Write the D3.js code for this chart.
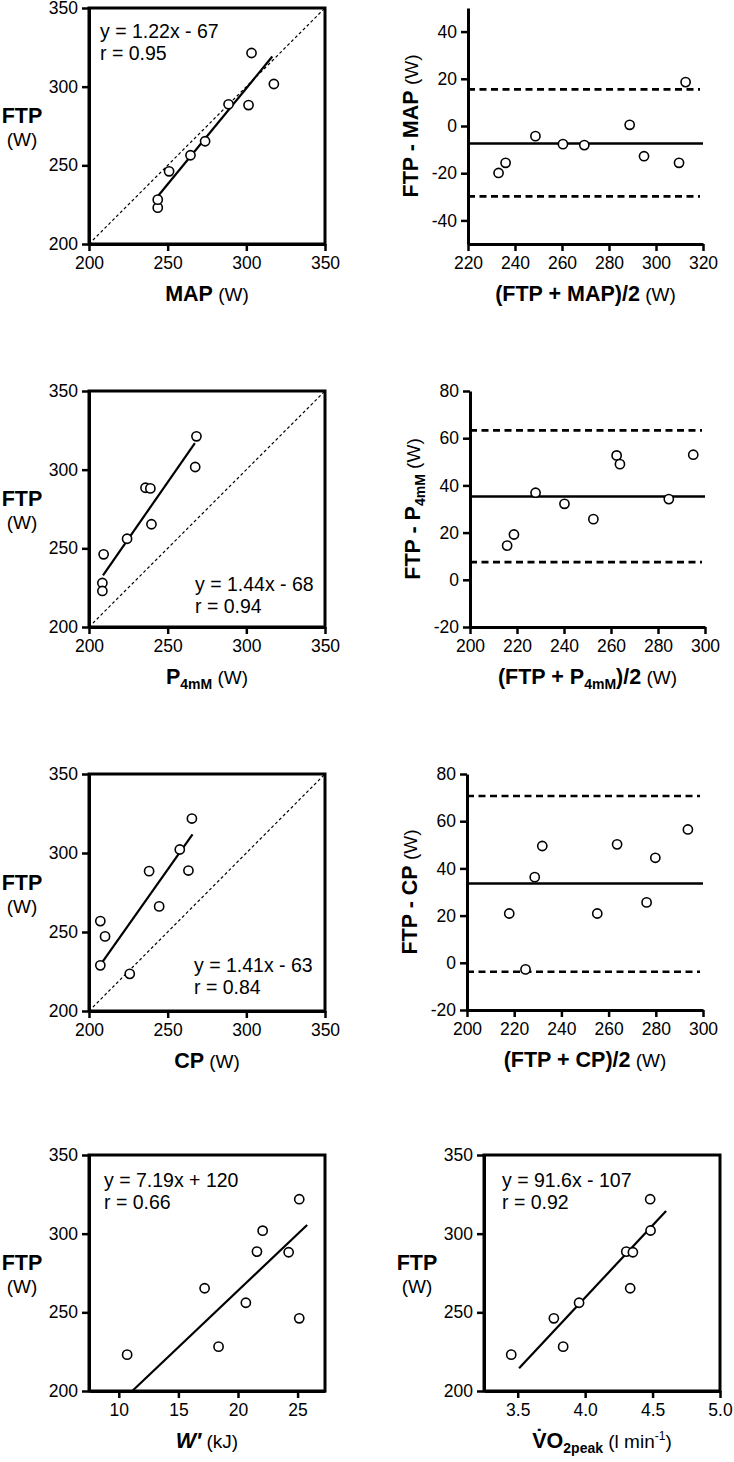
<!DOCTYPE html>
<html><head><meta charset="utf-8">
<script src="https://cdn.jsdelivr.net/npm/d3@7"></script>
<style>
body{margin:0;background:#fff}
svg{display:block}
text{font-family:"Liberation Sans",Arial,Helvetica,sans-serif;fill:#000}
</style>
</head><body>
<svg id="chart" width="734" height="1462"></svg>
<script>
// ---------------- DATA ----------------
// Panel A: FTP vs MAP
const mapX   = [243.7, 243.7, 250.9, 264.5, 273.8, 288.7, 301.4, 303.3, 317.5];
const mapFTP = [223.1, 228.2, 246.2, 256.4, 265.3, 288.8, 288.3, 321.4, 301.7];
const mapReg = {slope: 1.22, intercept: -67, from: 244, to: 316.5, eq: "y = 1.22x - 67", r: "r = 0.95"};
// Panel B: Bland-Altman FTP - MAP
const baMapMean = [233.0, 236.0, 248.7, 260.4, 269.5, 288.8, 294.9, 309.8, 312.6];
const baMapDiff = [-19.9, -15.6, -4.3, -7.7, -8.1, 0.5, -12.8, -15.6, 18.6];
const baMapBias = -7.4;
const baMapLoA  = [15.5, -29.8];
// Panel C: FTP vs P4mM
const p4X   = [209.3, 208.5, 208.5, 224.2, 235.9, 239.0, 239.7, 267.5, 268.3];
const p4FTP = [246.2, 228.0, 222.9, 256.1, 288.5, 288.1, 265.3, 301.7, 321.2];
const p4Reg = {slope: 1.44, intercept: -68, from: 208.9, to: 267.3, eq: "y = 1.44x - 68", r: "r = 0.94"};
// Panel D: Bland-Altman FTP - P4mM
const baP4Mean = [215.8, 218.7, 227.9, 240.2, 252.5, 262.4, 263.8, 284.6, 295.0];
const baP4Diff = [14.5, 19.2, 36.9, 32.2, 25.7, 52.7, 49.0, 34.2, 53.0];
const baP4Bias = 35.3;
const baP4LoA  = [63.3, 7.5];
// Panel E: FTP vs CP
const cpX   = [207.2, 210.2, 207.2, 225.9, 238.2, 244.6, 257.7, 263.2, 265.4];
const cpFTP = [256.9, 247.2, 228.9, 223.5, 288.5, 266.2, 302.2, 288.9, 321.8];
const cpReg = {slope: 1.41, intercept: -63, from: 207.9, to: 265.8, eq: "y = 1.41x - 63", r: "r = 0.84"};
// Panel F: Bland-Altman FTP - CP
const baCpMean = [217.9, 224.8, 228.7, 231.9, 255.2, 263.6, 276.1, 279.8, 293.6];
const baCpDiff = [20.9, -2.8, 36.3, 49.5, 20.9, 50.2, 25.6, 44.5, 56.5];
const baCpBias = 33.6;
const baCpLoA  = [70.7, -3.8];
// Panel G: FTP vs W'
const wX   = [10.7, 18.37, 17.2, 20.66, 25.14, 21.59, 24.25, 22.07, 25.14];
const wFTP = [223.1, 228.2, 265.3, 256.1, 246.2, 288.6, 288.2, 301.9, 321.9];
const wReg = {slope: 7.19, intercept: 120, from: 11.13, to: 25.8, eq: "y = 7.19x + 120", r: "r = 0.66"};
// Panel H: FTP vs VO2peak
const vX   = [3.452, 3.768, 3.837, 3.955, 4.305, 4.354, 4.334, 4.485, 4.482];
const vFTP = [223.1, 246.2, 228.2, 256.1, 288.6, 288.2, 265.3, 302.0, 321.9];
const vReg = {slope: 91.6, intercept: -107, from: 3.51, to: 4.60, eq: "y = 91.6x - 107", r: "r = 0.92"};

// Tick labels / domains
const powerTicks = [200, 250, 300, 350];
const powerDomain = [200, 350];
const baMapXTicks = [220, 240, 260, 280, 300, 320];
const baMapYTicks = [-40, -20, 0, 20, 40];
const baXTicks = [200, 220, 240, 260, 280, 300];
const baYTicks = [-20, 0, 20, 40, 60, 80];
const wTicks = [10, 15, 20, 25];
const wDomain = [7.5, 27.3];
const vTicks = [3.5, 4.0, 4.5, 5.0];
const vDomain = [3.25, 5.0];

// ---------------- DRAWING ----------------
const svg = d3.select("#chart");
const FONT_TICK = "17.5px";
const intFmt = d => String(d);

function richText(sel, segs) {
  let shift = 0;
  segs.forEach(s => {
    const t = sel.append("tspan").text(s.t)
      .style("font-size", (s.size || 19) + "px")
      .style("font-weight", s.bold ? "bold" : "normal")
      .style("font-style", s.italic ? "italic" : "normal");
    const target = s.shift || 0;
    if (target !== shift) { t.attr("dy", target - shift); shift = target; }
  });
}

function drawAxes(g, x, y, w, h, o) {
  const ax = g.append("g").attr("transform", `translate(0,${h})`)
    .call(d3.axisBottom(x).tickValues(o.xTicks).tickFormat(o.xFmt || intFmt)
      .tickSize(7).tickSizeOuter(0).tickPadding(6));
  const ay = g.append("g")
    .call(d3.axisLeft(y).tickValues(o.yTicks).tickFormat(intFmt)
      .tickSize(7).tickSizeOuter(0).tickPadding(4));
  [ax, ay].forEach(a => {
    a.attr("font-family", null).attr("font-size", null);
    a.selectAll("text").style("font-size", FONT_TICK);
    a.selectAll(".tick line").attr("stroke-width", 2.5);
    a.select(".domain").attr("stroke-width", 3);
  });
}

function points(g, x, y, xs, ys) {
  g.selectAll("circle.pt").data(xs.map((v, i) => [v, ys[i]])).join("circle")
    .attr("class", "pt")
    .attr("cx", d => x(d[0])).attr("cy", d => y(d[1]))
    .attr("r", 4.6).attr("fill", "#fff").attr("stroke", "#000").attr("stroke-width", 1.6);
}

function scatterPanel(o) {
  const w = o.w, h = o.h;
  const g = svg.append("g").attr("transform", `translate(${o.left},${o.top})`);
  const x = d3.scaleLinear().domain(o.xDomain).range([0, w]);
  const y = d3.scaleLinear().domain(o.yDomain).range([h, 0]);
  if (o.identity) {
    g.append("line")
      .attr("x1", x(o.yDomain[0])).attr("y1", y(o.yDomain[0]))
      .attr("x2", x(o.yDomain[1])).attr("y2", y(o.yDomain[1]))
      .attr("stroke", "#000").attr("stroke-width", 1.2).attr("stroke-dasharray", "3,2.5");
  }
  const reg = o.reg;
  g.append("line")
    .attr("x1", x(reg.from)).attr("y1", y(reg.slope * reg.from + reg.intercept))
    .attr("x2", x(reg.to)).attr("y2", y(reg.slope * reg.to + reg.intercept))
    .attr("stroke", "#000").attr("stroke-width", 2.2);
  points(g, x, y, o.xs, o.ys);
  g.append("rect").attr("x", 0).attr("y", 0).attr("width", w).attr("height", h)
    .attr("fill", "none").attr("stroke", "#000").attr("stroke-width", 3);
  drawAxes(g, x, y, w, h, o);
  // equation text
  g.append("text").attr("x", o.eqX).attr("y", o.eqY).style("font-size", "19.5px").text(reg.eq);
  g.append("text").attr("x", o.eqX).attr("y", o.eqY + 22).style("font-size", "19.5px").text(reg.r);
  // y title
  g.append("text").attr("text-anchor", "middle").attr("x", -67).attr("y", h / 2 - 3)
    .style("font-size", "21.5px").style("font-weight", "bold").text("FTP");
  g.append("text").attr("text-anchor", "middle").attr("x", -67).attr("y", h / 2 + 20)
    .style("font-size", "19px").text("(W)");
  // x title
  const xt = g.append("text").attr("text-anchor", "middle").attr("x", w / 2).attr("y", h + 57);
  richText(xt, o.xTitle);
}

function baPanel(o) {
  const w = o.w, h = o.h;
  const g = svg.append("g").attr("transform", `translate(${o.left},${o.top})`);
  const x = d3.scaleLinear().domain(o.xDomain).range([0, w]);
  const y = d3.scaleLinear().domain(o.yDomain).range([h, 0]);
  g.append("line").attr("x1", 0).attr("x2", w).attr("y1", y(o.bias)).attr("y2", y(o.bias))
    .attr("stroke", "#000").attr("stroke-width", 2.6);
  o.loa.forEach(v => {
    g.append("line").attr("x1", 0).attr("x2", w - 3).attr("y1", y(v)).attr("y2", y(v))
      .attr("stroke", "#000").attr("stroke-width", 2.6).attr("stroke-dasharray", "7,4.5");
  });
  points(g, x, y, o.xs, o.ys);
  drawAxes(g, x, y, w, h, o);
  const yt = g.append("text").attr("text-anchor", "middle")
    .attr("transform", `translate(-50,${h / 2}) rotate(-90)`);
  richText(yt, o.yTitle);
  const xt = g.append("text").attr("text-anchor", "middle").attr("x", w / 2).attr("y", h + 57);
  richText(xt, o.xTitle);
}

const B = (t, size) => ({t, bold: true, size: size || 21.5});
const R = (t, size) => ({t, size: size || 19});
const SUB = (t) => ({t, bold: true, size: 14, shift: 5});
const BACK = (seg) => Object.assign({shift: 0}, seg);

// Row 1
scatterPanel({left: 89, top: 8, w: 236, h: 236, xDomain: powerDomain, yDomain: powerDomain,
  xTicks: powerTicks, yTicks: powerTicks, xs: mapX, ys: mapFTP, reg: mapReg, identity: true,
  eqX: 11, eqY: 30, xTitle: [B("MAP"), R(" (W)")]});
baPanel({left: 468, top: 8, w: 235, h: 236, xDomain: [220, 320], yDomain: [-50, 50],
  xTicks: baMapXTicks, yTicks: baMapYTicks, xs: baMapMean, ys: baMapDiff, bias: baMapBias, loa: baMapLoA,
  yTitle: [B("FTP - MAP"), R(" (W)")], xTitle: [B("(FTP + MAP)/2"), R(" (W)")]});
// Row 2
scatterPanel({left: 89, top: 391, w: 236, h: 236, xDomain: powerDomain, yDomain: powerDomain,
  xTicks: powerTicks, yTicks: powerTicks, xs: p4X, ys: p4FTP, reg: p4Reg, identity: true,
  eqX: 106, eqY: 200, xTitle: [B("P"), SUB("4mM"), BACK(R(" (W)"))]});
baPanel({left: 470, top: 391, w: 235, h: 236, xDomain: [200, 300], yDomain: [-20, 80],
  xTicks: baXTicks, yTicks: baYTicks, xs: baP4Mean, ys: baP4Diff, bias: baP4Bias, loa: baP4LoA,
  yTitle: [B("FTP - P"), SUB("4mM"), BACK(R(" (W)"))],
  xTitle: [B("(FTP + P"), SUB("4mM"), BACK(B(")/2")), R(" (W)")]});
// Row 3
scatterPanel({left: 89, top: 774, w: 236, h: 237, xDomain: powerDomain, yDomain: powerDomain,
  xTicks: powerTicks, yTicks: powerTicks, xs: cpX, ys: cpFTP, reg: cpReg, identity: true,
  eqX: 105, eqY: 198, xTitle: [B("CP"), R(" (W)")]});
baPanel({left: 467, top: 774, w: 236, h: 236, xDomain: [200, 300], yDomain: [-20, 80],
  xTicks: baXTicks, yTicks: baYTicks, xs: baCpMean, ys: baCpDiff, bias: baCpBias, loa: baCpLoA,
  yTitle: [B("FTP - CP"), R(" (W)")], xTitle: [B("(FTP + CP)/2"), R(" (W)")]});
// Row 4
scatterPanel({left: 89, top: 1155, w: 236, h: 236, xDomain: wDomain, yDomain: powerDomain,
  xTicks: wTicks, yTicks: powerTicks, xs: wX, ys: wFTP, reg: wReg, identity: false,
  eqX: 15, eqY: 32, xTitle: [{t: "W\u2032", bold: true, italic: true, size: 21.5}, R(" (kJ)")]});
scatterPanel({left: 484, top: 1155, w: 236, h: 236, xDomain: vDomain, yDomain: powerDomain,
  xTicks: vTicks, yTicks: powerTicks, xFmt: d => d.toFixed(1), xs: vX, ys: vFTP, reg: vReg, identity: false,
  eqX: 18, eqY: 32,
  xTitle: [B("V\u0307O"), SUB("2peak"), BACK(R(" (l min")), {t: "-1", size: 12, shift: -8}, BACK(R(")"))]});
</script>
</body></html>
